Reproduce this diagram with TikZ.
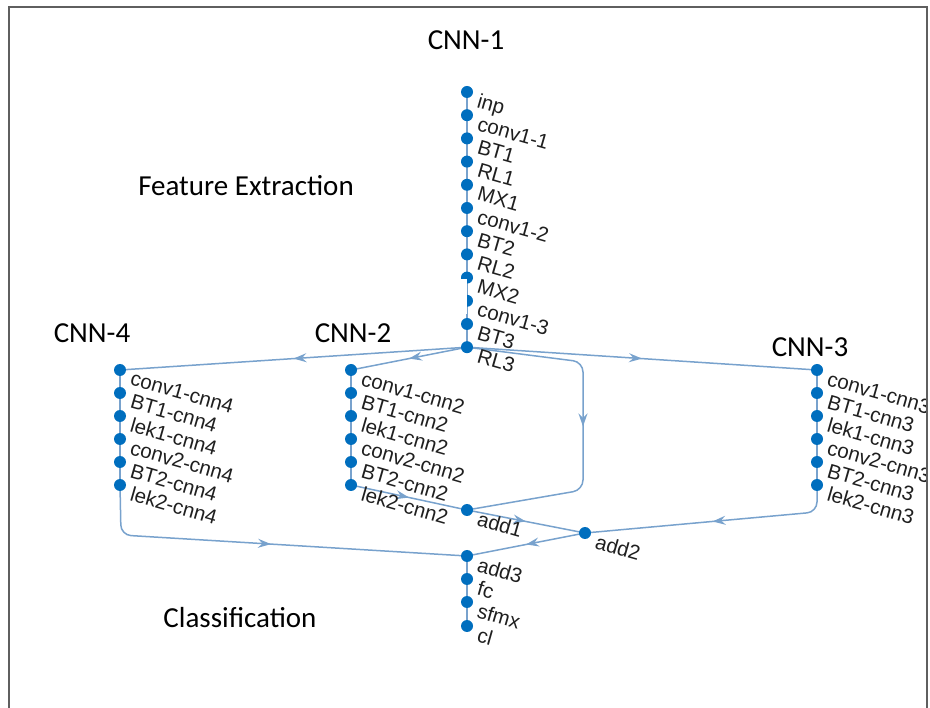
\documentclass[tikz,border=0pt]{standalone}
\usepackage{fontspec}
\setmainfont{Liberation Sans}
\newfontfamily\titlefont{Carlito}
\usetikzlibrary{decorations.markings,arrows.meta,backgrounds}
\definecolor{nodeblue}{RGB}{0,110,190}
\definecolor{edgeblue}{RGB}{120,162,205}
\definecolor{framegray}{RGB}{95,95,95}
\tikzset{
  dot/.style={circle, fill=nodeblue, inner sep=0pt, minimum size=12pt},
  lbl/.style={anchor=north west, rotate=-16, inner sep=0pt, font=\fontsize{20.5}{20.5}\selectfont, text=black!88},
  ttl/.style={font=\titlefont\fontsize{29}{29}\selectfont, inner sep=0pt},
  edgeline/.style={draw=edgeblue, line width=1.5pt},
  midarrow/.style={postaction={decorate}, decoration={markings, mark=at position 0.5 with {\arrow[edgeblue]{Stealth[length=13pt,width=9pt,inset=4.5pt]}}}}
}
\newcommand\gnode[4]{\node[dot] (#1) at (#2,#3) {};
  \node[lbl] (#1-l) at ([shift={(13,1)}]#2,#3) {#4};}
\begin{document}
\begin{tikzpicture}[x=1pt,y=-1pt]
\useasboundingbox (0,0) rectangle (930,708);
\begin{scope}
\clip (9,7) rectangle (927,708);
% CNN-1
\gnode{inp}{467}{92}{inp}
\gnode{c11}{467}{115.2}{conv1-1}
\gnode{bt1}{467}{138.4}{BT1}
\gnode{rl1}{467}{161.6}{RL1}
\gnode{mx1}{467}{184.8}{MX1}
\gnode{c12}{467}{208}{conv1-2}
\gnode{bt2}{467}{231.2}{BT2}
\gnode{rl2}{467}{254.4}{RL2}
\gnode{mx2}{467}{277.6}{MX2}
\gnode{c13}{467}{300.8}{conv1-3}
\gnode{bt3}{467}{324}{BT3}
\gnode{rl3}{467}{347.2}{RL3}
% CNN-4
\gnode{a1}{120}{370}{conv1-cnn4}
\gnode{a2}{120}{393}{BT1-cnn4}
\gnode{a3}{120}{416}{lek1-cnn4}
\gnode{a4}{120}{439}{conv2-cnn4}
\gnode{a5}{120}{462}{BT2-cnn4}
\gnode{a6}{120}{485}{lek2-cnn4}
% CNN-2
\gnode{b1}{351}{370}{conv1-cnn2}
\gnode{b2}{351}{393}{BT1-cnn2}
\gnode{b3}{351}{416}{lek1-cnn2}
\gnode{b4}{351}{439}{conv2-cnn2}
\gnode{b5}{351}{462}{BT2-cnn2}
\gnode{b6}{351}{485}{lek2-cnn2}
% CNN-3
\gnode{d1}{817}{370}{conv1-cnn3}
\gnode{d2}{817}{393}{BT1-cnn3}
\gnode{d3}{817}{416}{lek1-cnn3}
\gnode{d4}{817}{439}{conv2-cnn3}
\gnode{d5}{817}{462}{BT2-cnn3}
\gnode{d6}{817}{485}{lek2-cnn3}
% merge and classification
\gnode{add1}{467}{510}{add1}
\gnode{add2}{585}{533}{add2}
\gnode{add3}{467}{556}{add3}
\gnode{fc}{467}{579}{fc}
\gnode{sfmx}{467}{602}{sfmx}
\gnode{cl}{467}{626}{cl}
\end{scope}
\fill[white] (440,279) rectangle (467,314);
% titles
\node[ttl] (t1) at (466,40) {CNN-1};
\node[ttl] (t2) at (246,186) {Feature Extraction};
\node[ttl] (t3) at (92,333) {CNN-4};
\node[ttl] (t4) at (353,333) {CNN-2};
\node[ttl] (t5) at (810,347) {CNN-3};
\node[ttl] (t6) at (240,618) {Classification};
% frame
\draw[framegray, line width=1.5pt] (9,708) -- (9,7) -- (927,7) -- (927,708);
\begin{pgfonlayer}{background}
\draw[edgeline] (inp.center) -- (c11.center) -- (bt1.center) -- (rl1.center) -- (mx1.center) -- (c12.center) -- (bt2.center) -- (rl2.center) -- (mx2.center) -- (c13.center) -- (bt3.center) -- (rl3.center);
\draw[edgeline] (a1.center) -- (a2.center) -- (a3.center) -- (a4.center) -- (a5.center) -- (a6.center);
\draw[edgeline] (b1.center) -- (b2.center) -- (b3.center) -- (b4.center) -- (b5.center) -- (b6.center);
\draw[edgeline] (d1.center) -- (d2.center) -- (d3.center) -- (d4.center) -- (d5.center) -- (d6.center);
\draw[edgeline] (add3.center) -- (fc.center) -- (sfmx.center) -- (cl.center);
\draw[edgeline, midarrow] (rl3.center) -- (a1.center);
\draw[edgeline, midarrow] (rl3.center) -- (b1.center);
\draw[edgeline, midarrow] (rl3.center) -- (d1.center);
\draw[edgeline, midarrow, rounded corners=10pt] (rl3.center) -- (583,362) -- (583,490) -- (add1.center);
\draw[edgeline, midarrow] (b6.center) -- (add1.center);
\draw[edgeline, midarrow] (add1.center) -- (add2.center);
\draw[edgeline, midarrow, rounded corners=10pt] (d6.center) -- (817,512) -- (add2.center);
\draw[edgeline, midarrow] (add2.center) -- (add3.center);
\draw[edgeline, midarrow, rounded corners=10pt] (a6.center) -- (121,535) -- (add3.center);
\end{pgfonlayer}
\end{tikzpicture}
\end{document}
